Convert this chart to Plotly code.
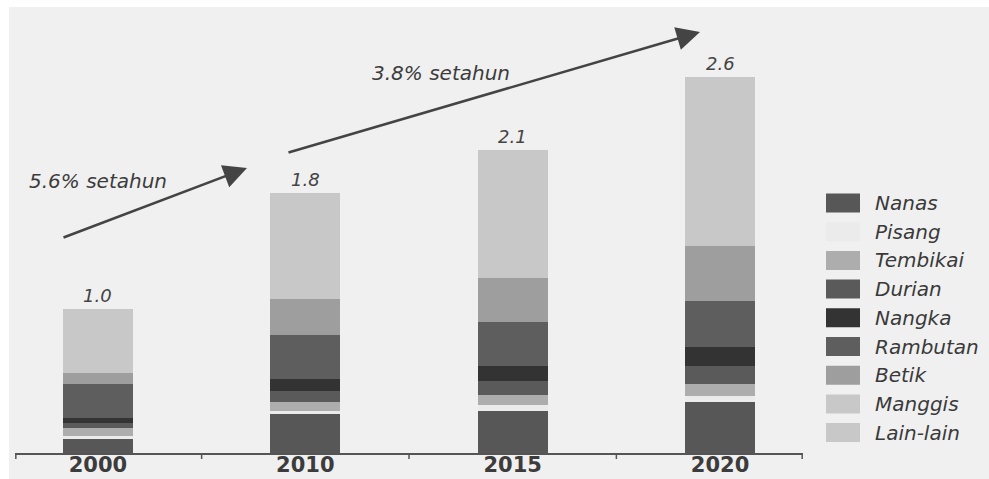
import plotly.graph_objects as go

# Fruit output index by year (2000 = 1.0), stacked by fruit type
years = ["2000", "2010", "2015", "2020"]
fruits = ["Nanas", "Pisang", "Tembikai", "Durian", "Nangka",
          "Rambutan", "Betik", "Manggis", "Lain-lain"]
nanas = [0.10, 0.27, 0.29, 0.35]
pisang = [0.02, 0.02, 0.04, 0.045]
tembikai = [0.05, 0.06, 0.07, 0.08]
durian = [0.035, 0.08, 0.10, 0.13]
nangka = [0.035, 0.08, 0.10, 0.13]
rambutan = [0.24, 0.31, 0.31, 0.32]
betik = [0.075, 0.245, 0.30, 0.375]
manggis = [0.05, 0.10, 0.12, 0.15]
lain_lain = [0.395, 0.635, 0.77, 1.02]
growth_labels = ["5.6% setahun", "3.8% setahun"]

series = [nanas, pisang, tembikai, durian, nangka,
          rambutan, betik, manggis, lain_lain]
colors = ["#575757", "#ebebeb", "#adadad", "#5a5a5a", "#333333",
          "#5e5e5e", "#9e9e9e", "#c8c8c8", "#c8c8c8"]

W, H = 989, 479
L, R, T, B = 15, 186, 7, 26
PW, PH = W - L - R, H - T - B
XR = [-0.4, 3.4]
YMAX = PH / 144.5


def px_x(x):
    return (x - L) / PW


def px_y(y):
    return (H - B - y) / PH


def dx(x):
    return XR[0] + (x - L) / PW * (XR[1] - XR[0])


def dy(y):
    return (H - B - y) / PH * YMAX


xs = list(range(len(years)))
fig = go.Figure()
for name, vals, col in zip(fruits, series, colors):
    fig.add_trace(go.Bar(x=xs, y=vals, name=name, marker_color=col,
                         marker_line_width=0, width=0.337, showlegend=False))

totals = [sum(v[i] for v in series) for i in range(len(years))]

annotations = []
for i, t in enumerate(totals):
    annotations.append(dict(x=i, y=t, xref="x", yref="y", text=f"{t:.1f}",
                            showarrow=False, xanchor="center", yanchor="bottom",
                            yshift=1,
                            font=dict(family="DejaVu Sans", size=18, color="#444444",
                                      style="italic")))

# Growth arrows
arrows = [((62, 238), (247, 168)), ((287, 153), (700, 32))]
for (tx, ty), (hx, hy) in arrows:
    annotations.append(dict(x=dx(hx), y=dy(hy), ax=dx(tx), ay=dy(ty),
                            xref="x", yref="y", axref="x", ayref="y",
                            text="", showarrow=True, arrowhead=2, arrowsize=1.8,
                            arrowwidth=2.6, arrowcolor="#444444"))
for txt, (cx, cy) in zip(growth_labels, [(98, 181), (441, 73)]):
    annotations.append(dict(x=px_x(cx), y=px_y(cy), xref="paper", yref="paper",
                            text=txt, showarrow=False, xanchor="center",
                            yanchor="middle",
                            font=dict(family="DejaVu Sans", size=20, color="#3c3c3c",
                                      style="italic")))

shapes = []
# tick marks at the ends of the axis and between categories
for tx in [XR[0] + 0.004, 0.5, 1.5, 2.5, XR[1] - 0.004]:
    shapes.append(dict(type="line", xref="x", yref="paper", x0=tx, x1=tx,
                       y0=0, y1=-6 / PH, line=dict(color="#555555", width=1.5)))

# Legend: swatches and labels
for k, (name, col) in enumerate(zip(fruits, colors)):
    cy = 203 + 28.7 * k
    shapes.append(dict(type="rect", xref="paper", yref="paper",
                       x0=px_x(826), x1=px_x(860), y0=px_y(cy + 9.5), y1=px_y(cy - 9.5),
                       fillcolor=col, line_width=0))
    annotations.append(dict(x=px_x(873), y=px_y(cy), xref="paper", yref="paper",
                            text=name, showarrow=False, xanchor="left",
                            yanchor="middle",
                            font=dict(family="DejaVu Sans", size=20, color="#3a3a3a",
                                      style="italic")))

# white frame at top and left
shapes.append(dict(type="rect", xref="paper", yref="paper", layer="above",
                   x0=px_x(-5), x1=px_x(W + 5), y0=px_y(7), y1=px_y(-5),
                   fillcolor="white", line_width=0))
shapes.append(dict(type="rect", xref="paper", yref="paper", layer="above",
                   x0=px_x(-5), x1=px_x(9), y0=px_y(H + 5), y1=px_y(-5),
                   fillcolor="white", line_width=0))

fig.update_layout(
    width=W, height=H, margin=dict(l=L, r=R, t=T, b=B),
    barmode="stack", bargap=0,
    paper_bgcolor="#f0f0f0", plot_bgcolor="#f0f0f0",
    showlegend=False,
    xaxis=dict(range=XR, tickvals=xs, ticktext=years, showgrid=False,
               zeroline=False, showline=True, linecolor="#555555", linewidth=1.5,
               ticks="", automargin=False, ticklabelstandoff=-8,
               tickfont=dict(family="DejaVu Sans", size=21,
                             color="#3c3c3c", weight="bold"),
               fixedrange=True),
    yaxis=dict(range=[0, YMAX], visible=False, fixedrange=True, automargin=False),
    annotations=annotations, shapes=shapes,
)

fig.write_html("out.html", config={"displayModeBar": False})
